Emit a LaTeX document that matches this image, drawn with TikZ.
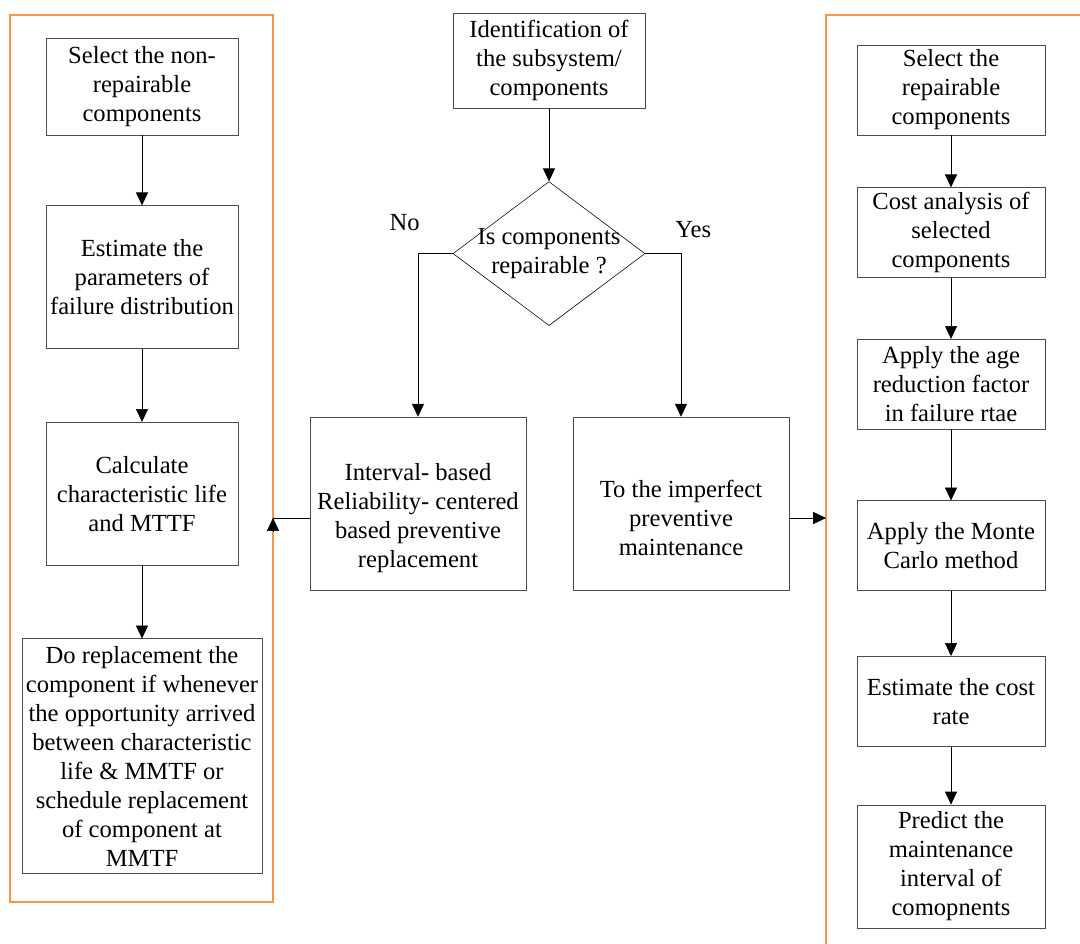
\documentclass[tikz,border=0pt]{standalone}
\usepackage{fontspec}
\setmainfont{Liberation Serif}
\usetikzlibrary{positioning, calc, arrows.meta, shapes.geometric}
\definecolor{frameorange}{RGB}{247,150,70}
\tikzset{
  > = {Triangle[length = 3.2mm, width = 3mm]},
  every node/.style = {font = \fontsize{17.5}{20.6}\selectfont},
  process/.style n args = {2}{draw = black!70, align = center, inner sep = 0pt,
    minimum width = #1, minimum height = #2},
  decision/.style = {draw, diamond, inner sep = 0pt,
    minimum width = 4.8cm, minimum height = 3.6cm},
  flow/.style = {->, draw = black},
  frame/.style = {draw = frameorange, line width = 0.8pt}
}

\begin{document}
\begin{tikzpicture}

\useasboundingbox (0,0) rectangle (27,-23.575);

%% Frames
\draw [frame] (0.25,-0.375) rectangle (6.825,-22.55);
\draw [frame] (20.65,-23.7) |- (27.2,-0.375);
\coordinate (inL) at (6.825,-12.95);
\coordinate (inR) at (20.65,-12.95);

%% Non-repairable
\node [process = {4.8cm}{2.425cm}] (l1) at (3.55,-2.1625)
  {Select the non-\\repairable\\components};
\node [process = {4.8cm}{3.575cm}] (l2) [below = 1.75cm of l1]
  {Estimate the\\parameters of\\failure distribution};
\node [process = {4.8cm}{3.575cm}] (l3) [below = 1.825cm of l2]
  {Calculate\\characteristic life\\and MTTF};
\node [process = {6cm}{5.875cm}] (l4) [below = 1.825cm of l3]
  {Do replacement the\\component if whenever\\the opportunity arrived\\between characteristic\\life \& MMTF or\\schedule replacement\\of component at\\MMTF};

%% Decision
\node [process = {4.8cm}{2.375cm}] (c1) at (13.725,-1.5125)
  {Identification of\\the subsystem/\\components};
\node [decision, label = {[align = center]center:Is components\\repairable ?}]
  (dec) [below = 1.825cm of c1] {};
\node [process = {5.4cm}{4.325cm},
  label = {[align = center, yshift = -0.3625cm]center:Interval- based\\Reliability- centered\\based preventive\\replacement}]
  (c2) at (10.45,-12.5875) {};
\node [process = {5.4cm}{4.325cm},
  label = {[align = center, yshift = -0.3625cm]center:To the imperfect\\preventive\\maintenance}]
  (c3) at (17.025,-12.5875) {};
\node (no) at ($(dec.west)+(-1.2,0.775)$) {No};
\node (yes) at ($(dec.east)+(1.2,0.6)$) {Yes};

%% Repairable
\node [process = {4.7cm}{2.25cm}] (r1) at (23.775,-2.25)
  {Select the\\repairable\\components};
\node [process = {4.7cm}{2.25cm}] (r2) [below = 1.3cm of r1]
  {Cost analysis of\\selected\\components};
\node [process = {4.7cm}{2.25cm}] (r3) [below = 1.525cm of r2]
  {Apply the age\\reduction factor\\in failure rtae};
\node [process = {4.7cm}{2.25cm}] (r4) [below = 1.775cm of r3]
  {Apply the Monte\\Carlo method};
\node [process = {4.7cm}{2.25cm}] (r5) [below = 1.625cm of r4]
  {Estimate the cost\\rate};
\node [process = {4.7cm}{3.075cm}] (r6) [below = 1.45cm of r5]
  {Predict the\\maintenance\\interval of\\comopnents};

%% Connectors
\path [flow] (l1) edge (l2)
             (l2) edge (l3)
             (l3) edge (l4);
\path [flow] (c1) edge (dec);
\draw [flow] (dec.west) -| (c2.north);
\draw [flow] (dec.east) -| (c3.north);
\draw (c2.west |- inL) -- (inL);
\draw [flow] ([yshift = -3.3mm] inL) -- (inL);
\draw [flow] (c3.east |- inR) -- (inR);
\path [flow] (r1) edge (r2)
             (r2) edge (r3)
             (r3) edge (r4)
             (r4) edge (r5)
             (r5) edge (r6);

\end{tikzpicture}
\end{document}
